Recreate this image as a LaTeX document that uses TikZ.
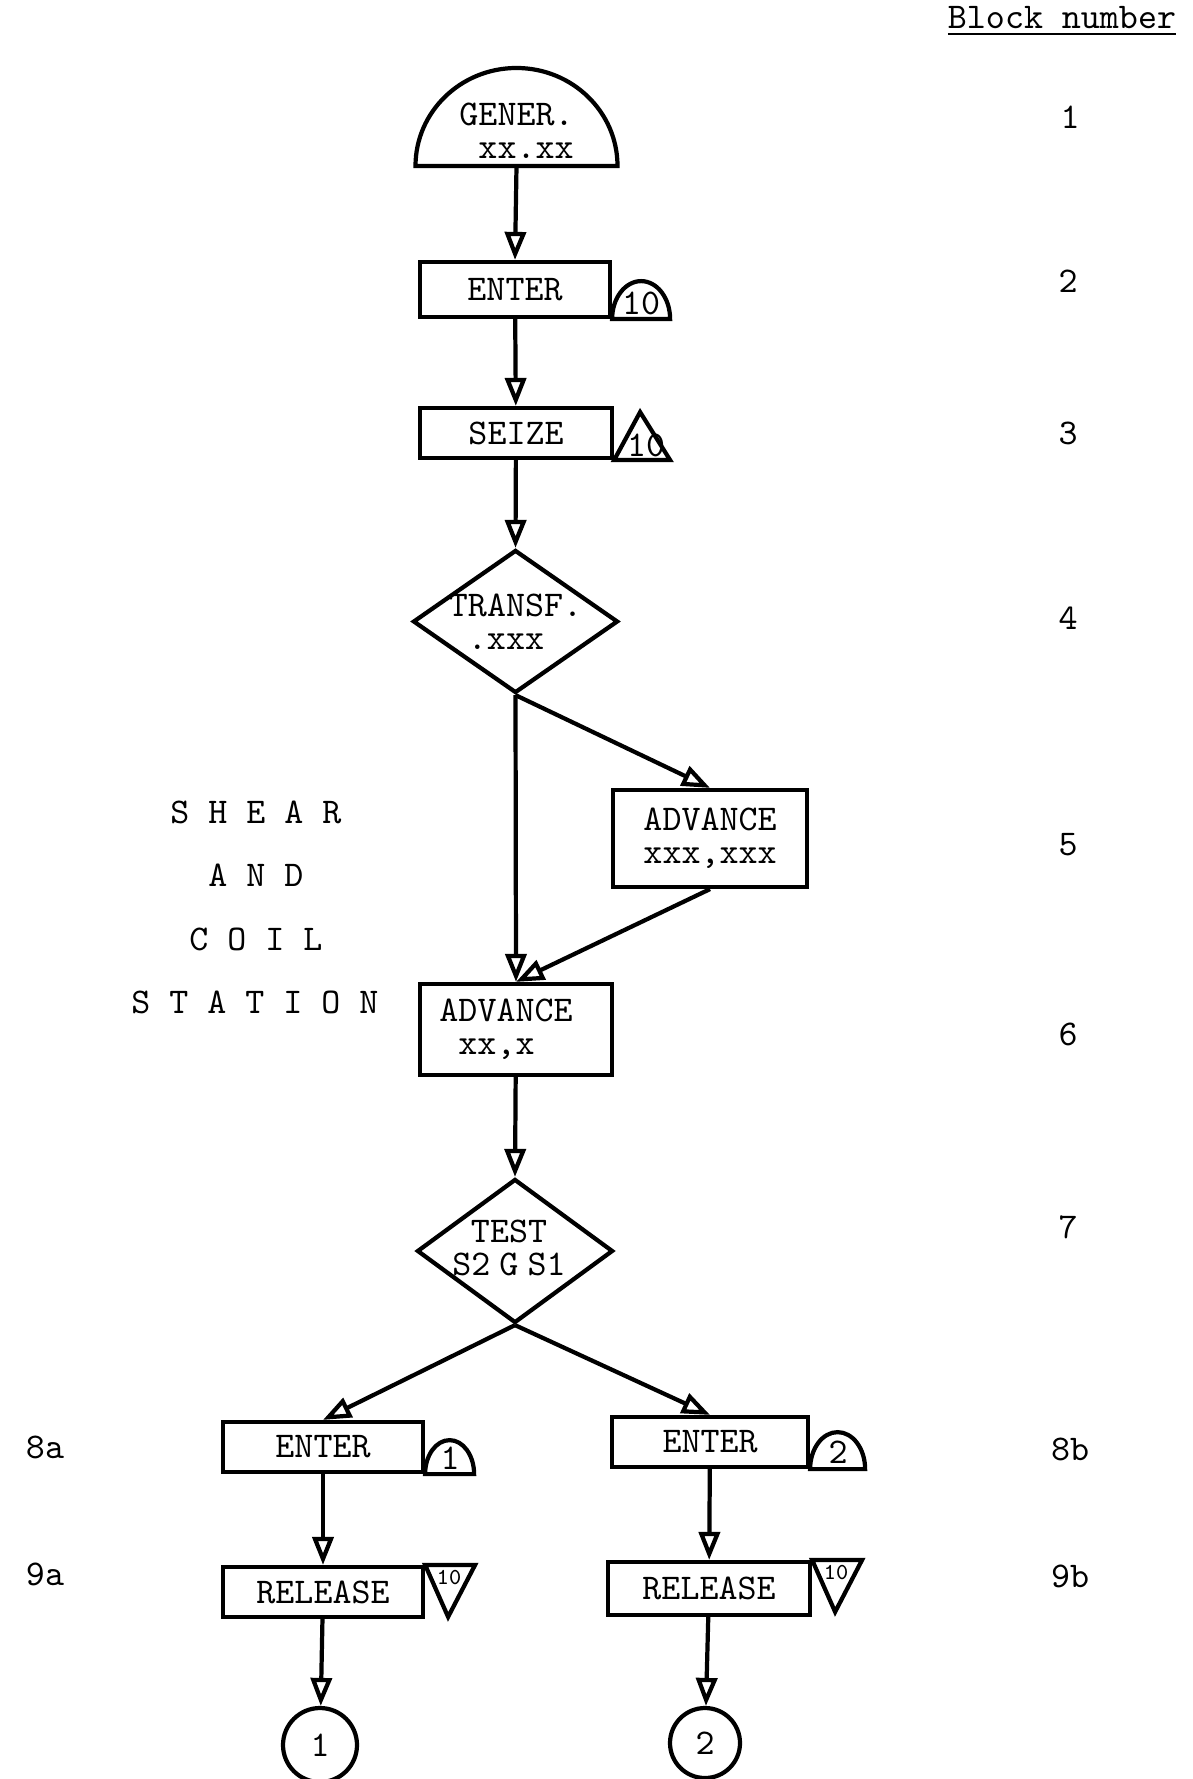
\documentclass[tikz,border=0pt]{standalone}
\usepackage{fontspec}
\usetikzlibrary{shapes.geometric, arrows.meta, positioning}

\begin{document}
\begin{tikzpicture}[
    every node/.style={font=\ttfamily\fontsize{10.3}{9.4}\selectfont},
    blk/.style={line width=1.2pt},
    box/.style={draw, line width=1.2pt, inner sep=0pt},
    decide/.style={diamond, draw, line width=1.2pt, inner sep=0pt},
    term/.style={circle, draw, line width=1.2pt, inner sep=0pt},
    flow/.style={line width=1.2pt, -{Triangle[open, length=2.8mm, width=2.1mm]}},
    tag/.style={font=\ttfamily\fontsize{6.5}{6.5}\selectfont}
]
\useasboundingbox (0,0) rectangle (11.93,-17.79);

% Main line
\coordinate (genbase) at (5.165,-1.66);
\draw[blk] (genbase) ++(-1.01,0) arc[start angle=180, end angle=0, x radius=1.01, y radius=.98] -- cycle;
\node[align=left] (gener) at (5.165,-1.31) {GENER.\\\hphantom{x}xx.xx};

\node[box, minimum width=1.90cm, minimum height=.55cm] (enter) at (5.15,-2.895) {ENTER};
\draw[blk] (enter.south east) arc[start angle=180, end angle=0, x radius=.29, y radius=.38] -- cycle;
\node (st10) at ([xshift=.29cm, yshift=.16cm]enter.south east) {10};

\node[box, minimum width=1.92cm, minimum height=.50cm] (seize) at (5.16,-4.33) {SEIZE};
\draw[blk] (seize.south east) -- ++(.26,.48) -- ++(.30,-.48) -- cycle;
\node (fac10) at ([xshift=.32cm, yshift=.15cm]seize.south east) {10};

\node[decide, minimum width=2.05cm, minimum height=1.43cm,
      label={[align=left]center:TRANSF.\\\hphantom{x}.xxx}] (transf) at (5.155,-6.215) {};

\node[box, minimum width=1.94cm, minimum height=.97cm, align=left] (adv1) at (7.10,-8.385) {ADVANCE\\xxx,xxx};

\node[box, minimum width=1.92cm, minimum height=.91cm,
      label={[align=left, xshift=-1mm]center:ADVANCE\\\hphantom{x}xx,x}] (adv2) at (5.16,-10.295) {};

\node[decide, minimum width=1.96cm, minimum height=1.44cm,
      label={[align=center, xshift=-.6mm, yshift=.3mm]center:TEST\\S2\hspace{.25em}G\hspace{.25em}S1}] (test) at (5.15,-12.51) {};

% Left branch
\node[box, minimum width=2.00cm, minimum height=.50cm] (enterA) at (3.23,-14.47) {ENTER};
\draw[blk] (enterA.south east) arc[start angle=180, end angle=0, x radius=.245, y radius=.34] -- cycle;
\node (st1) at ([xshift=.25cm, yshift=.16cm]enterA.south east) {1};

\node[box, minimum width=2.00cm, minimum height=.50cm] (relA) at (3.23,-15.92) {RELEASE};
\draw[blk] (relA.north east) -- ++(.50,0) -- ++(-.27,-.52) -- cycle;
\node[tag] (rl10a) at ([xshift=.24cm, yshift=-.13cm]relA.north east) {10};

\node[term, minimum size=.74cm] (circA) at (3.20,-17.45) {1};

% Right branch
\node[box, minimum width=1.96cm, minimum height=.50cm] (enterB) at (7.10,-14.42) {ENTER};
\draw[blk] (enterB.south east) arc[start angle=180, end angle=0, x radius=.275, y radius=.37] -- cycle;
\node (st2) at ([xshift=.28cm, yshift=.17cm]enterB.south east) {2};

\node[box, minimum width=2.02cm, minimum height=.53cm] (relB) at (7.09,-15.885) {RELEASE};
\draw[blk] (relB.north east) -- ++(.50,0) -- ++(-.27,-.52) -- cycle;
\node[tag] (rl10b) at ([xshift=.24cm, yshift=-.13cm]relB.north east) {10};

\node[term, minimum size=.70cm] (circB) at (7.05,-17.43) {2};

% Connectors
\draw[flow] (genbase) -- (enter.north);
\draw[flow] (enter) -- (seize);
\draw[flow] (seize) -- (transf.north);
\draw[flow] (transf.south) -- (adv1.north);
\draw[flow] (transf.south) -- (adv2.north);
\draw[flow] (adv1.south) -- (adv2.north);
\draw[flow] (adv2) -- (test.north);
\draw[flow] (test.south) -- (enterA.north);
\draw[flow] (test.south) -- (enterB.north);
\draw[flow] (enterA) -- (relA);
\draw[flow] (relA) -- (circA);
\draw[flow] (enterB) -- (relB);
\draw[flow] (relB) -- (circB);

% Station name
\node (sh) at (2.56,-8.12) {S H E A R};
\node (an) at (2.56,-8.75) {A N D};
\node (co) at (2.56,-9.39) {C O I L};
\node (st) at (2.55,-10.02) {S T A T I O N};

% Block numbers
\node[anchor=base] (bn) at (10.62,-.29) {\underline{Block number}};
\node (n1) at (10.70,-1.17) {1};
\node (n2) at (10.68,-2.81) {2};
\node (n3) at (10.68,-4.33) {3};
\node (n4) at (10.68,-6.18) {4};
\node (n5) at (10.68,-8.45) {5};
\node (n6) at (10.68,-10.34) {6};
\node (n7) at (10.68,-12.27) {7};
\node (n8b) at (10.70,-14.49) {8b};
\node (n9b) at (10.70,-15.76) {9b};
\node (n8a) at (.45,-14.47) {8a};
\node (n9a) at (.45,-15.74) {9a};
\end{tikzpicture}
\end{document}
